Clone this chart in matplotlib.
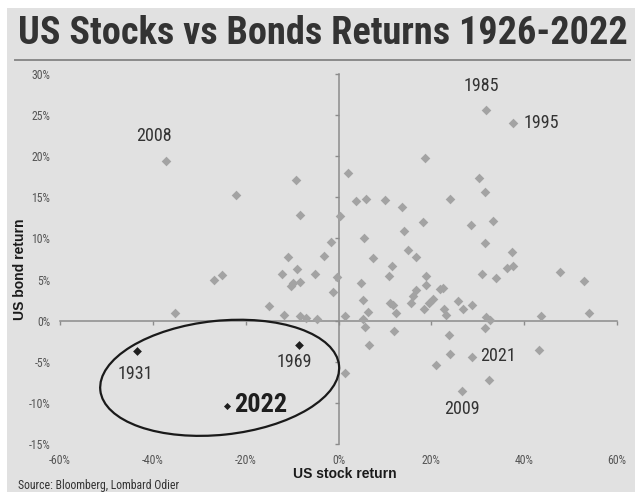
import matplotlib
matplotlib.use("Agg")
import matplotlib.pyplot as plt
from matplotlib import font_manager as fm
from matplotlib.patches import Ellipse, Rectangle
from matplotlib.transforms import Affine2D
from matplotlib.lines import Line2D

# ---------------- data ----------------
stock_gray = [-37.2, -22.1, -26.8, -25.0, -35.2,
              -9.1, 2.0, 3.7, 6.0, -8.3, 0.4, -1.6, 5.4, -10.9, -3.2, -8.9, -12.1, -5.1,
              -9.9, -10.2, -8.4, -0.4, -1.1, 4.9, 5.2, -14.9, -11.7, -8.2, -7.1, -4.6,
              1.4, 5.2, 5.8, 6.3,
              18.7, 30.3, 31.6, 10.1, 13.7, 24.0, 18.3, 28.6, 33.3, 14.2, 31.5, 15.0,
              16.6, 7.5, 11.6, 10.8, 18.9, 18.8, 31.0, 21.8, 22.5, 16.6, 16.0, 15.7,
              11.0, 11.7, 12.3, 19.6, 20.4, 18.4, 22.7, 23.1, 25.8, 26.8, 28.7, 31.7,
              31.5, 12.0, 23.9,
              31.7, 37.6, 37.3, 33.9, 36.3, 37.6, 47.7, 52.9, 43.7, 54.0, 32.6,
              6.5, 1.3, 24.1, 21.1, 28.8, 32.5, 26.5, 43.2]
bond_gray = [19.4, 15.3, 4.9, 5.6, 0.9,
             17.1, 18.0, 14.6, 14.8, 12.9, 12.7, 9.6, 10.0, 7.7, 7.9, 6.3, 5.7, 5.7,
             4.6, 4.2, 4.7, 5.3, 3.5, 4.6, 2.5, 1.8, 0.7, 0.6, 0.3, 0.2,
             0.6, 0.2, -0.8, 1.1,
             19.8, 17.3, 15.6, 14.7, 13.8, 14.8, 12.0, 11.6, 12.1, 10.9, 9.5, 8.6,
             7.8, 7.6, 6.6, 5.4, 5.4, 4.3, 5.7, 3.9, 4.0, 3.7, 3.0, 2.1,
             2.1, 1.9, 0.9, 2.1, 2.6, 1.4, 1.4, 0.7, 2.4, 1.4, 1.9, 0.4,
             -0.9, -1.3, -1.7,
             25.6, 24.1, 8.4, 5.2, 6.4, 6.7, 5.9, 4.8, 0.6, 0.9, 0.1,
             -2.9, -6.4, -4.0, -5.4, -4.4, -7.2, -8.6, -3.6]

black_years = ["1931", "1969", "2022"]
stock_black = [-43.5, -8.6, -24.0]
bond_black = [-3.7, -2.9, -10.4]

gray_labels = ["2008", "1985", "1995", "2021", "2009"]

x_ticks = [-60, -40, -20, 0, 20, 40, 60]
y_ticks = [-15, -10, -5, 0, 5, 10, 15, 20, 25, 30]
x_ticklabels = [f"{v}%" for v in x_ticks]
y_ticklabels = [f"{v}%" for v in y_ticks]

title = "US Stocks vs Bonds Returns 1926-2022"
xlabel = "US stock return"
ylabel = "US bond return"
source = "Source: Bloomberg, Lombard Odier"

# ---------------- fonts ----------------
available = {f.name for f in fm.fontManager.ttflist}
narrow_first = next((n for n in ["Arial Narrow", "Liberation Sans Narrow", "Roboto Condensed",
                                 "Archivo Narrow", "PT Sans Narrow"] if n in available),
                    "Liberation Sans")
NARROW = [narrow_first, "Liberation Sans", "DejaVu Sans"]
REG = ["Liberation Sans", "DejaVu Sans"]
BG = "#e1e1e1"
PT_GRAY = "#a3a3a3"
AX_GRAY = "#8c8c8c"

W, H = 635, 492
fig = plt.figure(figsize=(W / 100, H / 100), dpi=100, facecolor="white")
fig.patches.append(Rectangle((7 / W, 0), 1 - 7 / W, 1 - 8 / H, transform=fig.transFigure,
                             facecolor=BG, edgecolor="none", zorder=-10))
fig.add_artist(Line2D([15 / W, 630 / W], [1 - 60 / H, 1 - 60 / H], color="#8a8a8a", lw=1.4))

title_txt = fig.text(18 / W, 1 - 34 / H, title, ha="left", va="center", fontsize=31,
                     fontweight="bold", color="#333333", family=NARROW)
# fit the title into the reference span (18 px .. 627 px)
fig.canvas.draw()
tw = title_txt.get_window_extent().width
title_txt.set_fontsize(min(31, 31 * 609 / tw))

ax_l, ax_b, ax_w, ax_h = 60 / W, 48 / H, 557 / W, 370 / H
xlim = (-60, 60)
ylim = (-15, 30)

# label axes (tick labels at the frame edges)
lab = fig.add_axes([ax_l, ax_b, ax_w, ax_h])
lab.set_xlim(*xlim)
lab.set_ylim(*ylim)
lab.patch.set_alpha(0)
for s in lab.spines.values():
    s.set_visible(False)
lab.set_xticks(x_ticks, x_ticklabels, family=NARROW, fontsize=8.5, color="#555555")
lab.set_yticks(y_ticks, y_ticklabels, family=NARROW, fontsize=8.5, color="#555555")
lab.tick_params(length=0, pad=7)

# data axes with axis lines through zero
ax = fig.add_axes([ax_l, ax_b, ax_w, ax_h])
ax.set_xlim(*xlim)
ax.set_ylim(*ylim)
ax.patch.set_alpha(0)
ax.spines["top"].set_visible(False)
ax.spines["right"].set_visible(False)
ax.spines["left"].set_position(("data", 0))
ax.spines["bottom"].set_position(("data", 0))
for s in ("left", "bottom"):
    ax.spines[s].set_color(AX_GRAY)
    ax.spines[s].set_linewidth(1.1)
ax.set_xticks(x_ticks)
ax.set_yticks(y_ticks)
ax.tick_params(direction="out", length=3, width=1, color=AX_GRAY,
               labelbottom=False, labelleft=False)

ax.scatter(stock_gray, bond_gray, marker="D", s=24, color=PT_GRAY, linewidths=0, zorder=3)
ax.scatter(stock_black[:2], bond_black[:2], marker="D", s=20, color="#1e1e1e", linewidths=0, zorder=4)
ax.scatter(stock_black[2:], bond_black[2:], marker="D", s=13, color="#1e1e1e", linewidths=0, zorder=4)

lbl_kw = dict(family=NARROW, fontsize=13, color="#333333")
ax.text(-39.7, 22.4, gray_labels[0], ha="center", va="center", **lbl_kw)
ax.text(30.8, 28.6, gray_labels[1], ha="center", va="center", **lbl_kw)
ax.text(39.8, 24.0, gray_labels[2], ha="left", va="center", **lbl_kw)
ax.text(30.6, -4.3, gray_labels[3], ha="left", va="center", **lbl_kw)
ax.text(26.5, -10.7, gray_labels[4], ha="center", va="center", **lbl_kw)
ax.text(-43.8, -6.5, black_years[0], ha="center", va="center", **lbl_kw)
ax.text(-9.5, -5.0, black_years[1], ha="center", va="center", **lbl_kw)
ax.text(-22.4, -10.3, black_years[2], ha="left", va="center", family=NARROW,
        fontsize=19, fontweight="bold", color="#1e1e1e")

# highlight ellipse (drawn in pixel-proportional units)
px_x = ax_w * W / (xlim[1] - xlim[0])
px_y = ax_h * H / (ylim[1] - ylim[0])
k = px_y / px_x
ell_tr = (Affine2D().scale(120 / px_y, 57 / px_y).rotate_deg(6).scale(k, 1)
          .translate(-25.6, -6.95) + ax.transData)
ax.add_patch(Ellipse((0, 0), 2, 2, fill=False, ec="#1a1a1a", lw=1.6,
                     transform=ell_tr, zorder=5))

fig.text(344.5 / W, 1 - 474 / H, xlabel, ha="center", va="center", fontsize=10,
         fontweight="bold", color="#1a1a1a", family=REG)
fig.text(20 / W, 1 - 269.5 / H, ylabel, ha="center", va="center", rotation=90,
         fontsize=10, fontweight="bold", color="#1a1a1a", family=REG)
fig.text(18 / W, 1 - 485 / H, source, ha="left", va="center", fontsize=8.5,
         color="#333333", family=NARROW)

fig.savefig("out.png", dpi=100, facecolor=fig.get_facecolor())
